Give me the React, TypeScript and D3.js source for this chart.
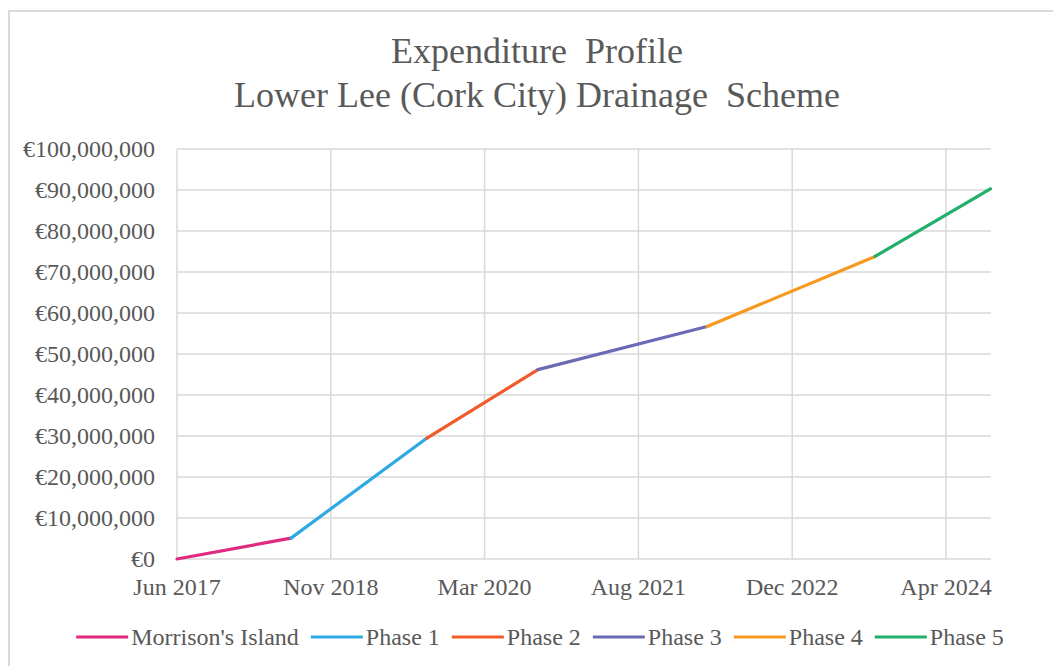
import React from 'react';
import * as d3 from 'd3';

const titleLines = ['Expenditure  Profile', 'Lower Lee (Cork City) Drainage  Scheme'];

const phaseNames = ["Morrison's Island", 'Phase 1', 'Phase 2', 'Phase 3', 'Phase 4', 'Phase 5'];
const phaseColors = ['#E0297F', '#2DAAE1', '#F15A2B', '#6B6BB5', '#F7991F', '#22AE6B'];
// boundaries between phases (start of first, end of each phase)
const breakDates = ['2017-06-30', '2018-07-05', '2019-09-19', '2020-09-13', '2022-03-16', '2023-09-12', '2024-09-20'];
const cumulativeSpend = [0, 5.1e6, 29.5e6, 46.2e6, 56.7e6, 73.8e6, 90.3e6];

const xTickDates = ['2017-06-30', '2018-11-11', '2020-03-24', '2021-08-05', '2022-12-17', '2024-04-29'];
const xDomain = ['2017-06-30', '2024-09-22'];
const yTicks = [0, 1e7, 2e7, 3e7, 4e7, 5e7, 6e7, 7e7, 8e7, 9e7, 1e8];

const W = 1053;
const H = 666;
const margin = { top: 149, right: 62, bottom: 107, left: 177 };
const FONT = '"Liberation Serif", "Times New Roman", serif';
const TEXT = '#595959';
const GRID = '#d9d9d9';

const parse = d3.utcParse('%Y-%m-%d');
const fmtDate = d3.utcFormat('%b %Y');
const fmtEuro = (v: number) => '€' + d3.format(',')(v);

function measure(text: string, size: number) {
  const ctx = document.createElement('canvas').getContext('2d');
  if (!ctx) return text.length * size * 0.45;
  ctx.font = `${size}px ${FONT}`;
  return ctx.measureText(text).width;
}

export default function App() {
  const x = d3.scaleUtc()
    .domain(xDomain.map(d => parse(d) as Date))
    .range([margin.left, W - margin.right]);
  const y = d3.scaleLinear()
    .domain([0, 1e8])
    .range([H - margin.bottom, margin.top]);

  const line = d3.line<[Date, number]>()
    .x(d => x(d[0]))
    .y(d => y(d[1]));

  const segments = phaseNames.map((name, i) => ({
    name,
    color: phaseColors[i],
    pts: [
      [parse(breakDates[i]) as Date, cumulativeSpend[i]],
      [parse(breakDates[i + 1]) as Date, cumulativeSpend[i + 1]],
    ] as [Date, number][],
  }));

  // legend layout
  const legendSize = 24;
  const swatch = 52;
  const items = phaseNames.map(n => measure(n, legendSize));
  const itemW = items.map(w => swatch + 3 + w + 12);
  const total = d3.sum(itemW) - 12;
  let cx = 540 - total / 2;
  const legendX = itemW.map(w => { const p = cx; cx += w; return p; });
  const legendY = 637;

  return (
    <svg width={W} height={H} style={{ position: 'absolute', left: 0, top: 0, background: '#fff' }}
      fontFamily={FONT}>
      <rect x={9} y={11} width={W} height={H} fill="#fff" stroke={GRID} strokeWidth={2} />

      {titleLines.map((t, i) => (
        <text key={t} x={537} y={63 + i * 44} textAnchor="middle" fontSize={36} fill={TEXT}
          style={{ whiteSpace: 'pre' }}>{t}</text>
      ))}

      {yTicks.map(t => (
        <line key={'h' + t} x1={margin.left} x2={W - margin.right} y1={y(t)} y2={y(t)}
          stroke={GRID} strokeWidth={1.5} />
      ))}
      {xTickDates.map(d => (
        <line key={'v' + d} x1={x(parse(d) as Date)} x2={x(parse(d) as Date)}
          y1={margin.top} y2={H - margin.bottom} stroke={GRID} strokeWidth={1.5} />
      ))}

      {yTicks.map(t => (
        <text key={'yl' + t} x={155} y={y(t)} dy="0.35em" textAnchor="end" fontSize={24} fill={TEXT}>
          {fmtEuro(t)}
        </text>
      ))}
      {xTickDates.map(d => (
        <text key={'xl' + d} x={x(parse(d) as Date)} y={595} textAnchor="middle" fontSize={24} fill={TEXT}>
          {fmtDate(parse(d) as Date)}
        </text>
      ))}

      {segments.map(s => (
        <path key={s.name} d={line(s.pts) || ''} fill="none" stroke={s.color} strokeWidth={3.2}
          strokeLinecap="round" />
      ))}

      {phaseNames.map((n, i) => (
        <g key={'lg' + n} transform={`translate(${legendX[i]},${legendY})`}>
          <line x1={0} x2={swatch} y1={0} y2={0} stroke={phaseColors[i]} strokeWidth={3.2} />
          <text x={swatch + 3} y={0} dy="0.35em" fontSize={legendSize} fill={TEXT}>{n}</text>
        </g>
      ))}
    </svg>
  );
}
